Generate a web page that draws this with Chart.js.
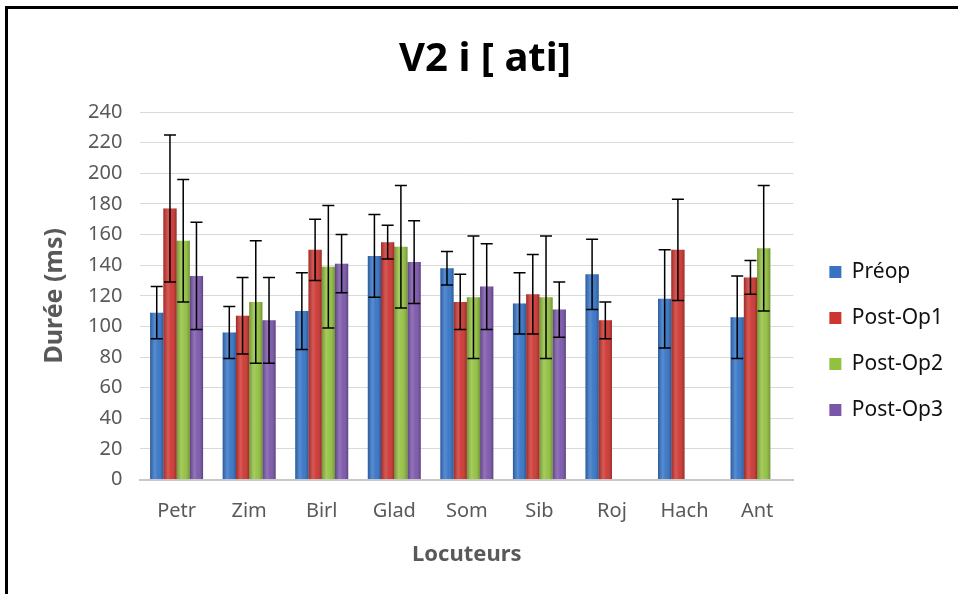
<!DOCTYPE html>
<html>
<head>
<meta charset="utf-8">
<style>
  html, body { margin: 0; padding: 0; background: #fff; }
  #frame {
    position: absolute; left: 5px; top: 6px;
    width: 953px; height: 588px;
    border-left: 3px solid #000; border-top: 3px solid #000;
    box-sizing: border-box;
  }
  #wrap { position: absolute; left: 0; top: 0; width: 958px; height: 594px; }
</style>
</head>
<body>
<div id="frame"></div>
<div id="wrap">
  <canvas id="myChart"></canvas>
</div>

<script src="https://cdn.jsdelivr.net/npm/chart.js"></script>

<script>
  const locuteurs = ['Petr', 'Zim', 'Birl', 'Glad', 'Som', 'Sib', 'Roj', 'Hach', 'Ant'];

  const preop    = [109, 96, 110, 146, 138, 115, 134, 118, 106];
  const postOp1  = [177, 107, 150, 155, 116, 121, 104, 150, 132];
  const postOp2  = [156, 116, 139, 152, 119, 119, null, null, 151];
  const postOp3  = [133, 104, 141, 142, 126, 111, null, null, null];

  // ecarts-types (barres d'erreur)
  const errPreop   = [17, 17, 25, 27, 11, 20, 23, 32, 27];
  const errPostOp1 = [48, 25, 20, 11, 18, 26, 12, 33, 11];
  const errPostOp2 = [40, 40, 40, 40, 40, 40, null, null, 41];
  const errPostOp3 = [35, 28, 19, 27, 28, 18, null, null, null];

  const ctx = document.getElementById('myChart');

  // decale un peu la legende vers la droite
  const legendShift = {
    id: 'legendShift',
    afterLayout(chart) {
      chart.legend.left += 11;
      chart.legend.right += 11;
    }
  };

  // reflet "cylindre" sur chaque barre puis barres d'erreur
  const errorBars = {
    id: 'errorBars',
    afterDatasetsDraw(chart) {
      const c = chart.ctx;
      const y = chart.scales.y;
      c.save();
      chart.data.datasets.forEach((ds, i) => {
        chart.getDatasetMeta(i).data.forEach((bar, j) => {
          if (ds.data[j] == null) return;
          const l = bar.x - bar.width / 2, r = bar.x + bar.width / 2;
          const g = c.createLinearGradient(l, 0, r, 0);
          g.addColorStop(0, 'rgba(0,0,0,0.22)');
          g.addColorStop(0.35, 'rgba(255,255,255,0.18)');
          g.addColorStop(0.6, 'rgba(255,255,255,0.05)');
          g.addColorStop(1, 'rgba(0,0,0,0.25)');
          c.fillStyle = g;
          c.fillRect(l, bar.y, bar.width, bar.base - bar.y);
        });
      });
      c.strokeStyle = '#000';
      c.lineWidth = 1.5;
      chart.data.datasets.forEach((ds, i) => {
        const meta = chart.getDatasetMeta(i);
        meta.data.forEach((bar, j) => {
          const v = ds.data[j], e = ds.errors[j];
          if (v == null || e == null) return;
          const top = y.getPixelForValue(v + e);
          const bot = y.getPixelForValue(v - e);
          const x = bar.x;
          c.beginPath();
          c.moveTo(x, top); c.lineTo(x, bot);
          c.moveTo(x - 6, top); c.lineTo(x + 6, top);
          c.moveTo(x - 6, bot); c.lineTo(x + 6, bot);
          c.stroke();
        });
      });
      c.restore();
    }
  };

  const data = {
    labels: locuteurs,
    datasets: [
      { label: 'Préop',     data: preop,   errors: errPreop,   backgroundColor: '#3473c6' },
      { label: 'Post-Op1',  data: postOp1, errors: errPostOp1, backgroundColor: '#cc3530' },
      { label: 'Post-Op2',  data: postOp2, errors: errPostOp2, backgroundColor: '#92c03f' },
      { label: 'Post-Op3',  data: postOp3, errors: errPostOp3, backgroundColor: '#7a55aa' }
    ]
  };

  const grey = '#595959';
  const font = 'Noto Sans';

  new Chart(ctx, {
    type: 'bar',
    data: data,
    plugins: [errorBars, legendShift],
    options: {
      responsive: true,
      maintainAspectRatio: false,
      animation: false,
      layout: { padding: { left: 28, right: 16, top: 10, bottom: 22 } },
      datasets: {
        bar: { categoryPercentage: 0.73, barPercentage: 1, borderWidth: 0 }
      },
      plugins: {
        title: {
          display: true,
          text: 'V2 i [ ati]',
          color: '#000',
          font: { family: font, size: 40, weight: 'bold' },
          padding: { top: 26, bottom: 28 }
        },
        legend: {
          position: 'right',
          title: { display: true, text: '', font: { size: 10 }, padding: { top: 88, bottom: 0 } },
          labels: {
            color: '#111',
            boxWidth: 12,
            boxHeight: 12,
            padding: 25,
            font: { family: font, size: 21 }
          }
        },
        tooltip: { enabled: false }
      },
      scales: {
        x: {
          grid: { display: false },
          border: { color: '#c8c8c8', width: 2 },
          ticks: { color: grey, padding: 12, font: { family: font, size: 20 } },
          title: {
            display: true, text: 'Locuteurs', color: grey,
            font: { family: font, size: 22, weight: 'bold' },
            padding: { top: 6, bottom: 4 }
          }
        },
        y: {
          min: 0, max: 240,
          ticks: { stepSize: 20, color: grey, padding: 18, font: { family: font, size: 20 } },
          grid: { color: '#d9d9d9', lineWidth: 1, drawTicks: false },
          border: { display: false },
          title: {
            display: true, text: 'Durée (ms)', color: grey,
            font: { family: font, size: 25, weight: 'bold' },
            padding: { top: 12, bottom: 0 }
          }
        }
      }
    }
  });
</script>
</body>
</html>
